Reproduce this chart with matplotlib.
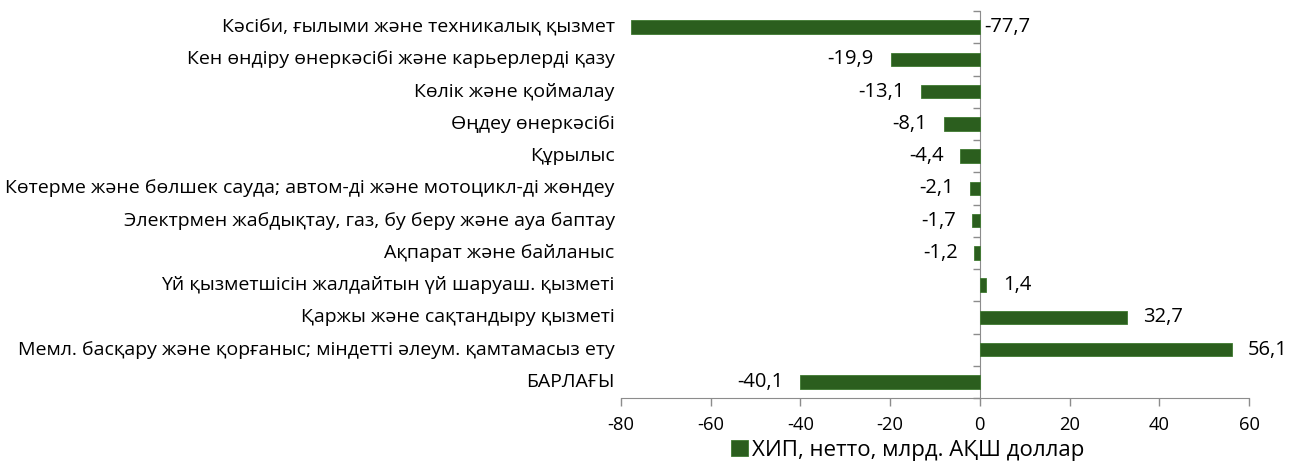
import matplotlib
matplotlib.use("Agg")
import matplotlib.pyplot as plt
import matplotlib.transforms as mtransforms
import numpy as np

plt.rcParams['font.family'] = ['Open Sans', 'DejaVu Sans']

categories = [
    "Кәсіби, ғылыми және техникалық қызмет",
    "Кен өндіру өнеркәсібі және карьерлерді қазу",
    "Көлік және қоймалау",
    "Өңдеу өнеркәсібі",
    "Құрылыс",
    "Көтерме және бөлшек сауда; автом-ді және мотоцикл-ді жөндеу",
    "Электрмен жабдықтау, газ, бу беру және ауа баптау",
    "Ақпарат және байланыс",
    "Үй қызметшісін жалдайтын үй шаруаш. қызметі",
    "Қаржы және сақтандыру қызметі",
    "Мемл. басқару және қорғаныс; міндетті әлеум. қамтамасыз ету",
    "БАРЛАҒЫ",
]
values = [-77.7, -19.9, -13.1, -8.1, -4.4, -2.1, -1.7, -1.2, 1.4, 32.7, 56.1, -40.1]
x_ticks = [-80, -60, -40, -20, 0, 20, 40, 60]
legend_label = "ХИП, нетто, млрд. АҚШ доллар"

green = "#2B5E1E"
grey = "#8C8C8C"

fig = plt.figure(figsize=(13.01, 4.61), dpi=100)
ax = fig.add_axes([621 / 1301, 63 / 461, 628 / 1301, 387 / 461])

y = np.arange(len(categories))
bars = ax.barh(y, values, height=0.42, color=green, edgecolor="#3F7A30",
               linewidth=0.6, label=legend_label, zorder=3)

ax.set_xlim(-80, 60)
ax.set_ylim(len(categories) - 0.5, -0.5)
ax.set_xticks(x_ticks)
ax.set_xticklabels([str(t) for t in x_ticks], fontsize=13.2)

# vertical axis sits at zero, ticks at category boundaries
ax.spines['left'].set_position(('data', 0))
ax.spines['left'].set_color(grey)
ax.spines['bottom'].set_color(grey)
ax.spines['top'].set_visible(False)
ax.spines['right'].set_visible(False)
ax.set_yticks(np.arange(len(categories) + 1) - 0.5)
ax.set_yticklabels([])
ax.tick_params(axis='y', direction='out', length=5, color=grey, width=1)
ax.tick_params(axis='x', direction='out', length=6, color=grey, width=1, pad=7)

trans = mtransforms.blended_transform_factory(ax.transAxes, ax.transData)
for yi, name in zip(y, categories):
    ax.text(-0.01, yi, name, transform=trans, ha='right', va='center', fontsize=14)

for yi, v in zip(y, values):
    lab = f"{v:.1f}".replace(".", ",")
    if v < -60:
        ax.annotate(lab, (0, yi), xytext=(3, 0), textcoords='offset points',
                    ha='left', va='center', fontsize=14.5)
    elif v < 0:
        ax.annotate(lab, (v, yi), xytext=(-12, 0), textcoords='offset points',
                    ha='right', va='center', fontsize=14.5)
    else:
        ax.annotate(lab, (v, yi), xytext=(12, 0), textcoords='offset points',
                    ha='left', va='center', fontsize=14.5)

fig.legend(handles=[bars], loc='center', bbox_to_anchor=(908 / 1301, 11 / 461),
           frameon=False, fontsize=16, handlelength=0.75, handleheight=0.75,
           handletextpad=0.2, borderpad=0)

fig.savefig("out.png", dpi=100)
